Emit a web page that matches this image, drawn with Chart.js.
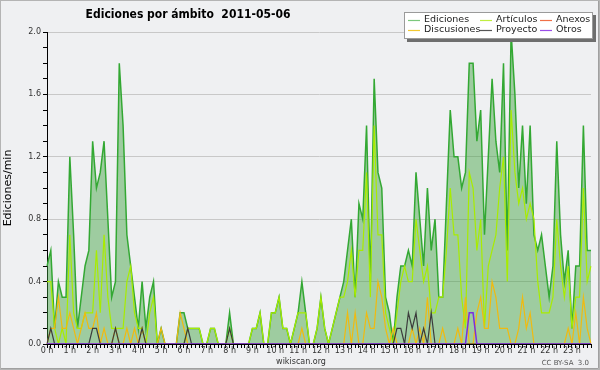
<!DOCTYPE html>
<html>
<head>
<meta charset="utf-8">
<script src="https://cdn.jsdelivr.net/npm/chart.js@4.4.1/dist/chart.umd.min.js"></script>
<style>
html, body { margin: 0; padding: 0; background: #eff0f2; }
canvas { display: block; }
</style>
</head>
<body>
<canvas id="chart" width="600" height="370"></canvas>
<script>
// hour labels shown under the axis, one every 6 slots (10 min each)
const hourLabels = ['0 h', '1 h', '2 h', '3 h', '4 h', '5 h', '6 h', '7 h', '8 h', '9 h', '10 h', '11 h',
    '12 h', '13 h', '14 h', '15 h', '16 h', '17 h', '18 h', '19 h', '20 h', '21 h', '22 h', '23 h'];

// edits per minute, 10-minute slots from 00:00 to 23:50
const ediciones = [
    0.5, 0.6, 0.1, 0.4, 0.3, 0.3, 1.2, 0.7, 0.1, 0.3,
    0.5, 0.6, 1.3, 1.0, 1.1, 1.3, 0.8, 0.3, 0.4, 1.8,
    1.4, 0.7, 0.5, 0.3, 0.1, 0.4, 0.1, 0.3, 0.4, 0.0,
    0.1, 0.0, 0.0, 0.0, 0.0, 0.2, 0.2, 0.1, 0.1, 0.1,
    0.1, 0.0, 0.0, 0.1, 0.1, 0.0, 0.0, 0.0, 0.2, 0.0,
    0.0, 0.0, 0.0, 0.0, 0.1, 0.1, 0.2, 0.0, 0.0, 0.2,
    0.2, 0.3, 0.1, 0.1, 0.0, 0.1, 0.2, 0.4, 0.2, 0.0,
    0.0, 0.1, 0.3, 0.1, 0.0, 0.1, 0.2, 0.3, 0.4, 0.6,
    0.8, 0.3, 0.9, 0.8, 1.4, 0.4, 1.7, 1.1, 1.0, 0.3,
    0.2, 0.0, 0.3, 0.5, 0.5, 0.6, 0.5, 1.1, 0.8, 0.5,
    1.0, 0.6, 0.8, 0.3, 0.3, 0.9, 1.5, 1.2, 1.2, 1.0,
    1.1, 1.8, 1.8, 1.3, 1.5, 0.7, 1.2, 1.7, 1.3, 1.1,
    1.8, 0.6, 2.0, 1.6, 1.0, 1.4, 0.9, 1.4, 0.7, 0.6,
    0.7, 0.5, 0.3, 0.5, 1.3, 0.7, 0.4, 0.6, 0.1, 0.5,
    0.5, 1.4, 0.6, 0.6
];

const articulos = [
    0.4, 0.4, 0.1, 0.0, 0.1, 0.0, 0.7, 0.2, 0.1, 0.1,
    0.2, 0.2, 0.2, 0.6, 0.2, 0.7, 0.3, 0.1, 0.1, 0.1,
    0.1, 0.4, 0.5, 0.2, 0.1, 0.1, 0.0, 0.2, 0.3, 0.0,
    0.0, 0.0, 0.0, 0.0, 0.0, 0.0, 0.0, 0.1, 0.1, 0.1,
    0.1, 0.0, 0.0, 0.1, 0.1, 0.0, 0.0, 0.0, 0.1, 0.0,
    0.0, 0.0, 0.0, 0.0, 0.1, 0.1, 0.2, 0.0, 0.0, 0.2,
    0.2, 0.3, 0.1, 0.1, 0.0, 0.1, 0.2, 0.2, 0.2, 0.0,
    0.0, 0.1, 0.3, 0.1, 0.0, 0.1, 0.2, 0.3, 0.3, 0.4,
    0.6, 0.3, 0.6, 0.6, 1.1, 0.3, 1.4, 0.7, 0.7, 0.2,
    0.1, 0.0, 0.2, 0.4, 0.5, 0.4, 0.4, 0.8, 0.6, 0.4,
    0.5, 0.2, 0.2, 0.3, 0.3, 0.6, 1.0, 0.7, 0.7, 0.3,
    0.1, 1.1, 1.0, 0.6, 0.8, 0.1, 0.5, 0.6, 0.7, 1.0,
    1.2, 0.4, 1.5, 1.1, 0.9, 1.0, 0.8, 0.9, 0.8, 0.4,
    0.2, 0.2, 0.2, 0.3, 0.8, 0.5, 0.3, 0.5, 0.1, 0.3,
    0.3, 1.0, 0.4, 0.5
];

const anexos = [
    0, 0, 0, 0, 0, 0, 0, 0, 0, 0, 0, 0, 0, 0, 0, 0, 0, 0, 0, 0, 0, 0, 0, 0,
    0, 0, 0, 0, 0, 0, 0, 0, 0, 0, 0, 0, 0, 0, 0, 0, 0, 0, 0, 0, 0, 0, 0, 0,
    0, 0, 0, 0, 0, 0, 0, 0, 0, 0, 0, 0, 0, 0, 0, 0, 0, 0, 0, 0, 0, 0, 0, 0,
    0, 0, 0, 0, 0, 0, 0, 0, 0, 0, 0, 0, 0, 0, 0, 0, 0, 0, 0, 0, 0, 0, 0, 0,
    0, 0, 0, 0, 0, 0, 0, 0, 0, 0, 0, 0, 0, 0, 0, 0, 0, 0, 0, 0, 0, 0, 0, 0,
    0, 0, 0, 0, 0, 0, 0, 0, 0, 0, 0, 0, 0, 0, 0, 0, 0, 0, 0, 0, 0, 0, 0, 0
];

const discusiones = [
    0.0, 0.1, 0.1, 0.3, 0.1, 0.1, 0.2, 0.1, 0.0, 0.1,
    0.2, 0.1, 0.1, 0.2, 0.0, 0.1, 0.0, 0.0, 0.1, 0.0,
    0.0, 0.1, 0.0, 0.1, 0.0, 0.1, 0.0, 0.0, 0.0, 0.0,
    0.1, 0.0, 0.0, 0.0, 0.0, 0.2, 0.1, 0.0, 0.0, 0.0,
    0.0, 0.0, 0.0, 0.0, 0.0, 0.0, 0.0, 0.0, 0.0, 0.0,
    0.0, 0.0, 0.0, 0.0, 0.0, 0.0, 0.0, 0.0, 0.0, 0.0,
    0.0, 0.0, 0.0, 0.0, 0.0, 0.0, 0.0, 0.1, 0.0, 0.0,
    0.0, 0.0, 0.0, 0.0, 0.0, 0.0, 0.0, 0.0, 0.0, 0.2,
    0.0, 0.2, 0.0, 0.0, 0.2, 0.1, 0.1, 0.4, 0.3, 0.1,
    0.0, 0.1, 0.0, 0.0, 0.0, 0.0, 0.1, 0.0, 0.1, 0.0,
    0.3, 0.0, 0.0, 0.0, 0.1, 0.0, 0.0, 0.0, 0.1, 0.0,
    0.3, 0.0, 0.0, 0.2, 0.3, 0.1, 0.1, 0.4, 0.3, 0.1,
    0.1, 0.1, 0.0, 0.0, 0.1, 0.3, 0.1, 0.2, 0.0, 0.0,
    0.0, 0.0, 0.0, 0.0, 0.0, 0.0, 0.0, 0.1, 0.0, 0.2,
    0.0, 0.3, 0.1, 0.0
];

const proyecto = [
    0.0, 0.1, 0.0, 0.0, 0.0, 0.0, 0.0, 0.0, 0.0, 0.0,
    0.0, 0.0, 0.1, 0.1, 0.0, 0.0, 0.0, 0.0, 0.1, 0.0,
    0.0, 0.0, 0.0, 0.0, 0.0, 0.1, 0.0, 0.0, 0.0, 0.0,
    0.0, 0.0, 0.0, 0.0, 0.0, 0.0, 0.0, 0.1, 0.0, 0.0,
    0.0, 0.0, 0.0, 0.0, 0.0, 0.0, 0.0, 0.0, 0.1, 0.0,
    0.0, 0.0, 0.0, 0.0, 0.0, 0.0, 0.0, 0.0, 0.0, 0.0,
    0.0, 0.0, 0.0, 0.0, 0.0, 0.0, 0.0, 0.0, 0.0, 0.0,
    0.0, 0.0, 0.0, 0.0, 0.0, 0.0, 0.0, 0.0, 0.0, 0.0,
    0.0, 0.0, 0.0, 0.0, 0.0, 0.0, 0.0, 0.0, 0.0, 0.0,
    0.0, 0.0, 0.1, 0.1, 0.0, 0.2, 0.1, 0.2, 0.0, 0.1,
    0.0, 0.2, 0.0, 0.0, 0.0, 0.0, 0.0, 0.0, 0.0, 0.0,
    0.0, 0.0, 0.0, 0.0, 0.0, 0.0, 0.0, 0.0, 0.0, 0.0,
    0.0, 0.0, 0.0, 0.0, 0.0, 0.0, 0.0, 0.0, 0.0, 0.0,
    0.0, 0.0, 0.0, 0.0, 0.0, 0.0, 0.0, 0.0, 0.0, 0.0,
    0.0, 0.0, 0.0, 0.0
];

const otros = [
    0, 0, 0, 0, 0, 0, 0, 0, 0, 0, 0, 0, 0, 0, 0, 0, 0, 0, 0, 0, 0, 0, 0, 0,
    0, 0, 0, 0, 0, 0, 0, 0, 0, 0, 0, 0, 0, 0, 0, 0, 0, 0, 0, 0, 0, 0, 0, 0,
    0, 0, 0, 0, 0, 0, 0, 0, 0, 0, 0, 0, 0, 0, 0, 0, 0, 0, 0, 0, 0, 0, 0, 0,
    0, 0, 0, 0, 0, 0, 0, 0, 0, 0, 0, 0, 0, 0, 0, 0, 0, 0, 0, 0, 0, 0, 0, 0,
    0, 0, 0, 0, 0, 0, 0, 0, 0, 0, 0, 0, 0, 0, 0, 0.2, 0.2, 0, 0, 0, 0, 0, 0, 0,
    0, 0, 0, 0, 0, 0, 0, 0, 0, 0, 0, 0, 0, 0, 0, 0, 0, 0, 0, 0, 0, 0, 0, 0
];

// slot labels (00:00 ... 23:50)
const slotLabels = [];
for (let h = 0; h < 24; h++) {
    for (let m = 0; m < 60; m += 10) {
        slotLabels.push(String(h).padStart(2, '0') + ':' + String(m).padStart(2, '0'));
    }
}

const FONT = '"DejaVu Sans", sans-serif';

// background, frame, title, footer
const decorPlugin = {
    id: 'decor',
    beforeDraw(chart) {
        const ctx = chart.ctx;
        ctx.save();
        ctx.fillStyle = '#eff0f2';
        ctx.fillRect(0, 0, chart.width, chart.height);
        ctx.restore();
    },
    afterDraw(chart) {
        const ctx = chart.ctx;
        ctx.save();
        // frame
        ctx.strokeStyle = '#b4b4b4';
        ctx.lineWidth = 1;
        ctx.strokeRect(0.5, 0.5, chart.width - 1, chart.height - 1);
        ctx.strokeStyle = '#a0a0a0';
        ctx.beginPath();
        ctx.moveTo(chart.width - 1.5, 1);
        ctx.lineTo(chart.width - 1.5, chart.height - 1.5);
        ctx.lineTo(1, chart.height - 1.5);
        ctx.stroke();

        // title
        ctx.fillStyle = '#000';
        ctx.font = 'bold 12px "DejaVu Sans Condensed", "DejaVu Sans", sans-serif';
        ctx.textAlign = 'center';
        ctx.textBaseline = 'middle';
        ctx.fillText('Ediciones por ámbito  2011-05-06', 188, 15);

        // footer
        ctx.fillStyle = '#333';
        ctx.font = '8px ' + FONT;
        ctx.fillText('wikiscan.org', 301, 362);
        ctx.textAlign = 'right';
        ctx.fillStyle = '#555';
        ctx.font = '7px ' + FONT;
        ctx.fillText('CC BY-SA  3.0', 589, 363);
        ctx.restore();
    }
};

// boxed legend in three columns at the top right
const boxLegendPlugin = {
    id: 'boxLegend',
    afterDraw(chart) {
        const ctx = chart.ctx;
        const x = 404, y = 12, w = 188, h = 26;
        const colX = [4, 76, 136];
        const rowY = [7.5, 17.5];
        ctx.save();
        ctx.fillStyle = '#6e6e6e';
        ctx.fillRect(x + 3, y + 3, w + 1, h + 1);
        ctx.fillStyle = '#ffffff';
        ctx.fillRect(x, y, w, h);
        ctx.strokeStyle = '#9a9a9a';
        ctx.lineWidth = 1;
        ctx.strokeRect(x + 0.5, y + 0.5, w, h);
        ctx.font = '9.5px ' + FONT;
        ctx.textBaseline = 'middle';
        ctx.textAlign = 'left';
        chart.data.datasets.forEach((ds, k) => {
            const cx = x + colX[k % 3];
            const cy = y + rowY[Math.floor(k / 3)];
            ctx.strokeStyle = ds.legendColor;
            ctx.lineWidth = 1.2;
            ctx.beginPath();
            ctx.moveTo(cx, Math.round(cy) + 0.5);
            ctx.lineTo(cx + 12, Math.round(cy) + 0.5);
            ctx.stroke();
            ctx.fillStyle = '#222';
            ctx.fillText(ds.label, cx + 16, cy);
        });
        ctx.restore();
    }
};

function lineSet(label, data, color, legendColor, width, order) {
    return {
        label: label,
        data: data,
        borderColor: color,
        legendColor: legendColor,
        borderWidth: width,
        pointRadius: 0,
        tension: 0,
        fill: false,
        order: order
    };
}

const edicionesSet = lineSet('Ediciones', ediciones, '#33a833', '#7cc87c', 1.5, 6);
edicionesSet.fill = 'origin';
edicionesSet.backgroundColor = 'rgba(60, 160, 60, 0.45)';

const ctx = document.getElementById('chart').getContext('2d');
new Chart(ctx, {
    type: 'line',
    data: {
        labels: slotLabels,
        datasets: [
            edicionesSet,
            lineSet('Artículos', articulos, '#a8ec00', '#c0ee40', 1.2, 5),
            lineSet('Anexos', anexos, '#f07048', '#f07048', 1.2, 4),
            lineSet('Discusiones', discusiones, '#f0ba10', '#f2c830', 1.2, 3),
            lineSet('Proyecto', proyecto, '#3c3c3c', '#555555', 1.2, 2),
            lineSet('Otros', otros, '#7a2ee0', '#9a4ee8', 1.5, 1)
        ]
    },
    options: {
        responsive: false,
        animation: false,
        devicePixelRatio: 1,
        layout: {
            padding: { left: 2, right: 9, top: 32, bottom: 0 }
        },
        plugins: {
            legend: { display: false },
            title: { display: false },
            tooltip: { enabled: false }
        },
        scales: {
            x: {
                type: 'category',
                z: 1,
                afterFit: function (scale) { scale.height = 26; },
                grid: {
                    drawOnChartArea: false,
                    drawTicks: true,
                    tickLength: 4,
                    tickColor: '#000',
                    color: '#000'
                },
                border: { display: true, color: '#000', width: 1 },
                ticks: {
                    autoSkip: false,
                    maxRotation: 0,
                    minRotation: 0,
                    padding: -2,
                    color: '#333',
                    font: { family: FONT, size: 8 },
                    callback: function (value, index) {
                        return index % 6 === 0 ? hourLabels[index / 6] : '';
                    }
                }
            },
            y: {
                min: 0,
                max: 2,
                afterFit: function (scale) { scale.width = 45; },
                grid: {
                    color: function (c) {
                        const v = Math.round(c.tick.value * 10);
                        return (v % 4 === 0 && v > 0) ? '#c8c8c8' : 'rgba(0,0,0,0)';
                    },
                    tickColor: '#000',
                    tickLength: 4,
                    lineWidth: 1
                },
                border: { display: true, color: '#000', width: 1 },
                title: {
                    display: true,
                    text: 'Ediciones/min',
                    color: '#000',
                    padding: 0,
                    font: { family: FONT, size: 11 }
                },
                ticks: {
                    stepSize: 0.1,
                    autoSkip: false,
                    padding: 2,
                    color: '#333',
                    font: { family: FONT, size: 8 },
                    callback: function (value) {
                        const v = Math.round(value * 10);
                        return v % 4 === 0 ? (v / 10).toFixed(1) : '';
                    }
                }
            }
        }
    },
    plugins: [decorPlugin, boxLegendPlugin]
});
</script>
</body>
</html>
